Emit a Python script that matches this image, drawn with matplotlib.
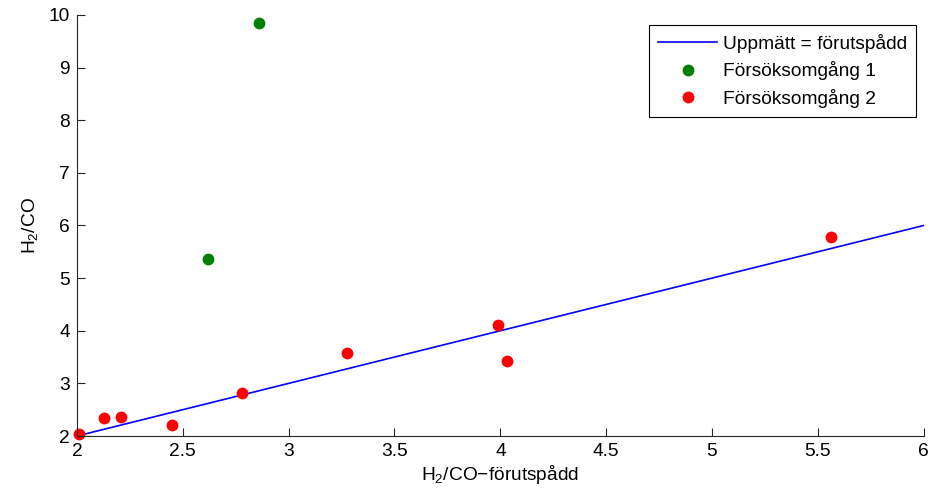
import numpy as np
import matplotlib
matplotlib.use("Agg")
import matplotlib.pyplot as plt

plt.rcParams["font.family"] = ["Liberation Sans", "DejaVu Sans"]
plt.rcParams["mathtext.fontset"] = "custom"
plt.rcParams["mathtext.rm"] = "Liberation Sans"
plt.rcParams["mathtext.it"] = "Liberation Sans"

# data
ideal_x = [2, 6]
ideal_y = [2, 6]

run1_pred = [2.86, 2.62]
run1_meas = [9.85, 5.36]

run2_pred = [2.01, 2.13, 2.21, 2.45, 2.78, 3.275, 3.99, 4.03, 5.56]
run2_meas = [2.03, 2.34, 2.37, 2.20, 2.81, 3.58, 4.11, 3.43, 5.79]

xticks = [2, 2.5, 3, 3.5, 4, 4.5, 5, 5.5, 6]
xticklabels = ["2", "2.5", "3", "3.5", "4", "4.5", "5", "5.5", "6"]
yticks = [2, 3, 4, 5, 6, 7, 8, 9, 10]

fs = 13.8

fig = plt.figure(figsize=(9.33, 4.91), dpi=100)
ax = fig.add_axes([0.0825, 0.112, 0.9075, 0.8575])

ax.plot(ideal_x, ideal_y, color="blue", lw=1.2, label="Uppmätt = förutspådd")
ax.plot(run1_pred, run1_meas, "o", color="#008000", ms=8.5, mec="none",
        label="Försöksomgång 1")
ax.plot(run2_pred, run2_meas, "o", color="red", ms=8.5, mec="none",
        label="Försöksomgång 2", clip_on=False)

ax.set_xlim(2, 6)
ax.set_ylim(2, 10)
ax.set_xticks(xticks)
ax.set_xticklabels(xticklabels)
ax.set_yticks(yticks)

for s in ["top", "right"]:
    ax.spines[s].set_visible(False)
for s in ["left", "bottom"]:
    ax.spines[s].set_color("#262626")
    ax.spines[s].set_linewidth(0.8)

ax.tick_params(direction="in", length=6, width=0.8, colors="#262626",
               labelsize=fs, labelcolor="black", pad=5)

ax.set_xlabel("H$_2$/CO\u2212förutspådd", fontsize=fs, labelpad=2)
ax.set_ylabel("H$_2$/CO", fontsize=fs, labelpad=6)

leg = ax.legend(loc="upper right", bbox_to_anchor=(0.9906, 0.976), fontsize=fs,
                fancybox=False, framealpha=1, edgecolor="black",
                handlelength=3.1, handletextpad=0.3, borderpad=0.45,
                labelspacing=0.45, borderaxespad=0)
leg.get_frame().set_linewidth(0.8)

fig.savefig("out.png", dpi=100)
